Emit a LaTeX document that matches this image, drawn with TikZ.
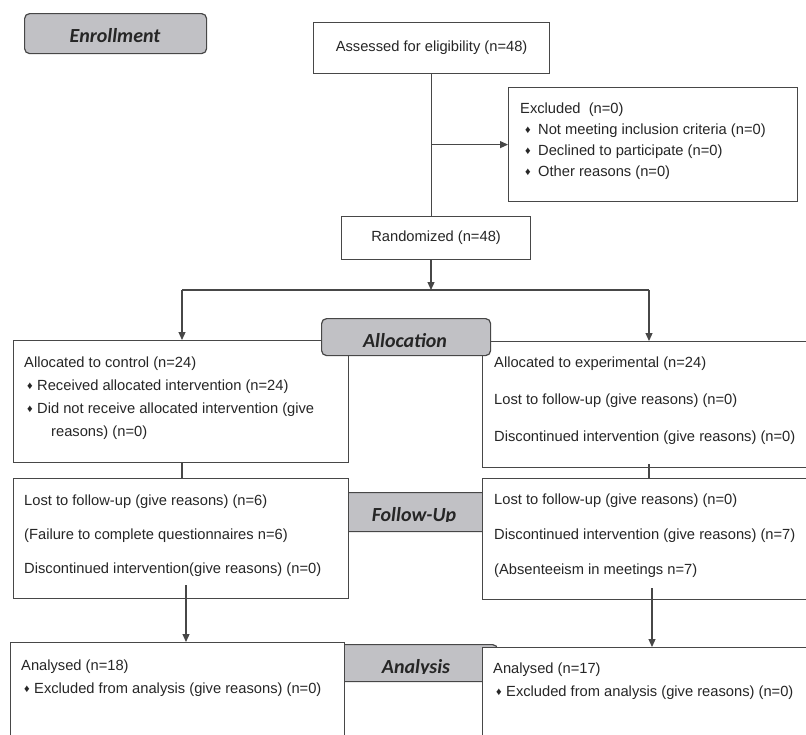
\documentclass[tikz,border=0pt]{standalone}
\usepackage{fontspec}
\setmainfont{Liberation Sans}
\newfontfamily\tagfont{Carlito}
\usepackage{graphicx}
\usepackage{tikz}
\usetikzlibrary{arrows.meta}
\definecolor{linegray}{HTML}{474747}
\definecolor{taggray}{HTML}{C1C1C5}
\definecolor{textgray}{HTML}{262626}
\newcommand{\dmd}{\raisebox{0.6pt}{\fontsize{11}{11}\selectfont ♦}}
\newcommand{\bul}[1][3pt]{\hspace*{#1}\makebox[10pt][l]{\dmd}}
\tikzset{
    every node/.style={inner sep=0pt, text=textgray},
    box/.style={draw=linegray, fill=white, line width=1.2pt, anchor=north west},
    tag/.style={box, fill=taggray, rounded corners=5pt},
    txt/.style={anchor=north west, align=left, font=\fontsize{14.7}{#1}\selectfont},
    tagtxt/.style={anchor=base, font=\tagfont\bfseries\itshape\fontsize{20}{24}\selectfont},
    link/.style={draw=linegray, line width=1.2pt},
    >={Triangle[length=8pt, width=7pt]}
}

\begin{document}
\begin{tikzpicture}[x=1pt, y=-1pt]
  \useasboundingbox (0,0) rectangle (806,734);
  \clip (0,0) rectangle (806,734);

  % stage tags lying behind the boxes
  \node (fu) [tag, minimum width=150, minimum height=39] at (340,492) {};
  \node (an) [tag, minimum width=161, minimum height=37] at (336,644) {};
  \begin{scope}
    \clip (340,492) rectangle (490,521);
    \node (futxt) [tagtxt] at (414,521) {Follow-Up};
  \end{scope}
  \begin{scope}
    \clip (336,644) rectangle (497,673);
    \node (antxt) [tagtxt] at (416,673) {Analysis};
  \end{scope}

  % boxes
  \node (enroll) [tag, minimum width=182, minimum height=40] at (24,13) {};
  \node (enrolltxt) [tagtxt] at (115,42) {Enrollment};
  \node (assessed) [box, minimum width=236, minimum height=51,
    font=\fontsize{14.7}{17}\selectfont] at (313,22) {Assessed for eligibility (n=48)};
  \node (excl) [box, minimum width=289, minimum height=114] at (508,87) {};
  \node (rand) [box, minimum width=189, minimum height=43,
    font=\fontsize{14.7}{17}\selectfont] at (341,216) {Randomized (n=48)};
  \node (ctrl) [box, minimum width=335, minimum height=122] at (13,340) {};
  \node (exper) [box, minimum width=360, minimum height=126] at (482,341) {};
  \node (fuctrl) [box, minimum width=335, minimum height=120] at (13,478) {};
  \node (fuexp) [box, minimum width=360, minimum height=121] at (482,478) {};
  \node (anctrl) [box, minimum width=334, minimum height=130] at (10,642) {};
  \node (anexp) [box, minimum width=360, minimum height=130] at (482,647) {};

  \node (alloc) [tag, minimum width=169, minimum height=37] at (321,318) {};
  \node (alloctxt) [tagtxt] at (405,347) {Allocation};

  % box texts
  \node (excltxt) [txt=21] at (520,102.5) {Excluded\ \ (n=0)\\
    \bul[5pt]\hspace*{3pt}Not meeting inclusion criteria (n=0)\\
    \bul[5pt]\hspace*{3pt}Declined to participate (n=0)\\
    \bul[5pt]\hspace*{3pt}Other reasons (n=0)};
  \node (ctrltxt) [txt=23] at (24,356.5) {Allocated to control (n=24)\\
    \bul Received allocated intervention (n=24)\\
    \bul Did not receive allocated intervention (give\\
    \hspace*{27pt}reasons) (n=0)};
  \node (expertxt) [txt=37] at (494,356.5) {Allocated to experimental (n=24)\\
    Lost to follow-up (give reasons) (n=0)\\
    Discontinued intervention (give reasons) (n=0)};
  \node (fuctrltxt) [txt=34] at (24,494.5) {Lost to follow-up (give reasons) (n=6)\\
    (Failure to complete questionnaires n=6)\\
    Discontinued intervention(give reasons) (n=0)};
  \node (fuexptxt) [txt=35] at (494,493.5) {Lost to follow-up (give reasons) (n=0)\\
    Discontinued intervention (give reasons) (n=7)\\
    (Absenteeism in meetings n=7)};
  \node (anctrltxt) [txt=23] at (21,659.5) {Analysed (n=18)\\
    \bul Excluded from analysis (give reasons) (n=0)};
  \node (anexptxt) [txt=23] at (493,662.5) {Analysed (n=17)\\
    \bul Excluded from analysis (give reasons) (n=0)};

  % connectors
  \coordinate (split) at (431,290);
  \coordinate (lft) at (182,290);
  \coordinate (rgt) at (649,290);
  \coordinate (dl) at (186,585);
  \coordinate (dr) at (652,588);
  \coordinate (tick) at (649,464);

  \draw[link] (assessed.south) -- (assessed.south |- rand.north);
  \draw[link, ->] (assessed.south |- excl.west) -- (excl.west);
  \draw[link, ->] (split |- rand.south) -- (split);
  \draw[link] (lft) -- (rgt);
  \draw[link, ->] (lft) -- (lft |- ctrl.north);
  \draw[link, ->] (rgt) -- (rgt |- exper.north);
  \draw[link] (lft |- ctrl.south) -- (lft |- fuctrl.north);
  \draw[link] (tick) -- (tick |- fuexp.north);
  \draw[link, ->] (dl) -- (dl |- anctrl.north);
  \draw[link, ->] (dr) -- (dr |- anexp.north);
\end{tikzpicture}
\end{document}
